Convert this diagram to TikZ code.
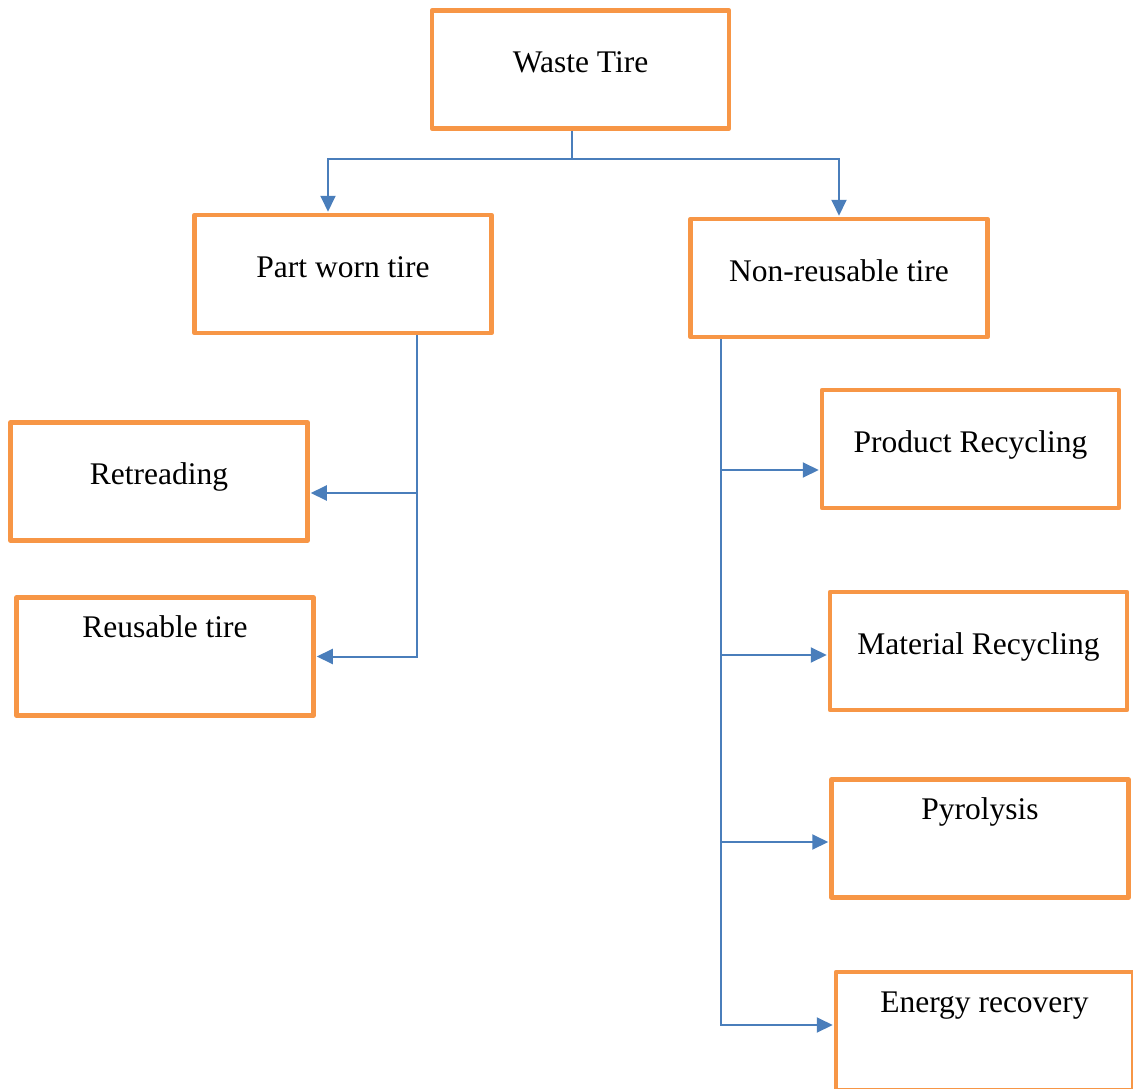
\documentclass[tikz,border=0pt]{standalone}
\usepackage{fontspec}
\setmainfont{Liberation Serif}
\usetikzlibrary{arrows.meta}
\definecolor{tireorange}{HTML}{F79646}
\definecolor{linkblue}{HTML}{4A7EBB}
\tikzset{
  tirebox/.style    = {shape=rectangle, draw=tireorange, line width=4.5pt,
                       line join=round, anchor=center,
                       minimum width=297pt, minimum height=118pt,
                       inner sep=0pt, text=black,
                       font=\fontsize{31.5}{38}\selectfont,
                       text height=22pt, text depth=16pt},
  tireboxtop/.style = {tirebox, text depth=60pt},
  link/.style       = {linkblue, line width=2pt},
  linkarrow/.style  = {link, -{Triangle[length=16pt,width=15pt]}, shorten >=1pt},
}

\begin{document}
\begin{tikzpicture}[x=1pt,y=-1pt]
  \useasboundingbox (0,0) rectangle (1133,1089);
  % boxes
  \node[tirebox]    (waste)    at (580.5,69.5)  {Waste Tire};
  \node[tirebox]    (partworn) at (343,274)     {Part worn tire};
  \node[tirebox]    (nonreus)  at (839,278)     {Non-reusable tire};
  \node[tirebox]    (retread)  at (159,481.5)   {Retreading};
  \node[tireboxtop] (reusable) at (165,656.5)   {Reusable tire};
  \node[tirebox]    (product)  at (970.5,449)   {Product Recycling};
  \node[tirebox]    (material) at (978.5,651)   {Material Recycling};
  \node[tireboxtop] (pyro)     at (980,838.5)   {Pyrolysis};
  \node[tireboxtop] (energy)   at (984.5,1031)  {Energy recovery};
  % connectors
  \coordinate (split) at (572,159);
  \draw[link]      (split |- waste.south) -- (split);
  \draw[linkarrow] (split) -| ([xshift=-15pt]partworn.north);
  \draw[linkarrow] (split) -| (nonreus.north);
  \draw[linkarrow] ([xshift=74pt]partworn.south) |- ([yshift=-11.5pt]retread.east);
  \draw[linkarrow] ([xshift=74pt]partworn.south) |- (reusable.east);
  \draw[linkarrow] ([xshift=-118pt]nonreus.south) |- ([yshift=-21pt]product.west);
  \draw[linkarrow] ([xshift=-118pt]nonreus.south) |- ([yshift=-4pt]material.west);
  \draw[linkarrow] ([xshift=-118pt]nonreus.south) |- ([yshift=-3.5pt]pyro.west);
  \draw[linkarrow] ([xshift=-118pt]nonreus.south) |- ([yshift=6pt]energy.west);
\end{tikzpicture}
\end{document}
